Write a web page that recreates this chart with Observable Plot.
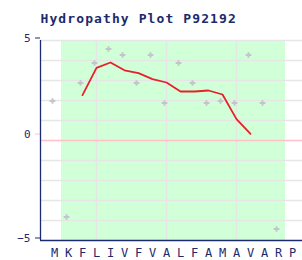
<!DOCTYPE html>
<html><head><meta charset="utf-8">
<script src="https://cdn.jsdelivr.net/npm/d3@7"></script>
<script src="https://cdn.jsdelivr.net/npm/@observablehq/plot@0.6"></script>
<style>body{margin:0;background:#fff}</style>
</head><body><div id="chart"></div>
<script>
const residues = ["M","K","F","L","I","V","F","V","A","L","F","A","M","A","V","A","R","P"];
const scores = [1.9,-3.9,2.8,3.8,4.5,4.2,2.8,4.2,1.8,3.8,2.8,1.8,1.9,1.8,4.2,1.8,-4.5,null];
const smoothPos = [3,4,5,6,7,8,9,10,11,12,13,14,15];
const smoothVals = [2.27,3.63,3.9,3.51,3.37,3.07,2.9,2.45,2.45,2.5,2.3,1.07,0.33];
const regionStart = 1.5, regionEnd = 17.5;
const yLabelTicks = [5, -5];
const yGrid = [5, 4, 3, 2, 1, -1, -2, -3, -4];
const xGrid = [4, 9, 14];
const title = "Hydropathy Plot P92192";

const navy = "#1c2a6e";
const points = residues.map((r, i) => ({pos: i + 1, score: scores[i]})).filter(d => d.score != null);
const smooth = smoothPos.map((p, i) => ({pos: p, v: smoothVals[i]}));

const chart = Plot.plot({
  width: 302, height: 260,
  marginLeft: 40, marginRight: 0, marginTop: 40, marginBottom: 20,
  style: {background: "white", fontFamily: "DejaVu Sans Mono", color: navy},
  x: {domain: [0, 262 / 14], axis: null},
  y: {domain: [-5, 5], axis: null},
  marks: [
    Plot.rect([{x1: regionStart, x2: regionEnd}], {x1: "x1", x2: "x2", y1: -5, y2: 5, fill: "#d0ffd8"}),
    Plot.ruleY(yGrid, {stroke: "#e6e6e6", strokeWidth: 1.5}),
    Plot.ruleX(xGrid, {stroke: "#e6e6e6", strokeWidth: 1.5}),
    Plot.ruleY([0], {stroke: "#ffc0c8", strokeWidth: 1.3}),
    Plot.axisY([0], {tickSize: 5, tickPadding: 5, stroke: "#ffc0c8", fill: navy, fontSize: 11, label: null, dy: -6.5}),
    Plot.dot(points, {x: "pos", y: "score", r: 2.4, symbol: "cross", fill: "#c4c4cc", stroke: null, dx: -2, dy: -1.5}),
    Plot.line(smooth, {x: "pos", y: "v", stroke: "#e8202c", strokeWidth: 1.8}),
    Plot.ruleX([0], {y1: -5, y2: 5, stroke: navy, strokeWidth: 1.3}),
    Plot.ruleY([-5], {stroke: navy, strokeWidth: 1.3}),
    Plot.axisY(yLabelTicks, {tickSize: 5, tickPadding: 5, stroke: navy, fill: navy, fontSize: 11, label: null, dy: -2.5}),
    Plot.axisX({ticks: d3.range(1, residues.length + 1), tickFormat: i => residues[i - 1], tickSize: 0, tickPadding: 8, fill: navy, fontSize: 12, label: null}),
    Plot.text([title], {frameAnchor: "top-left", textAnchor: "start", lineAnchor: "middle", dy: -21.5, fontSize: 13, fontWeight: "bold", fill: navy})
  ]
});
d3.select(chart).selectAll("text").filter(function () { return this.textContent === title; }).attr("letter-spacing", "1.1px");
document.getElementById("chart").append(chart);
</script>
</body></html>
